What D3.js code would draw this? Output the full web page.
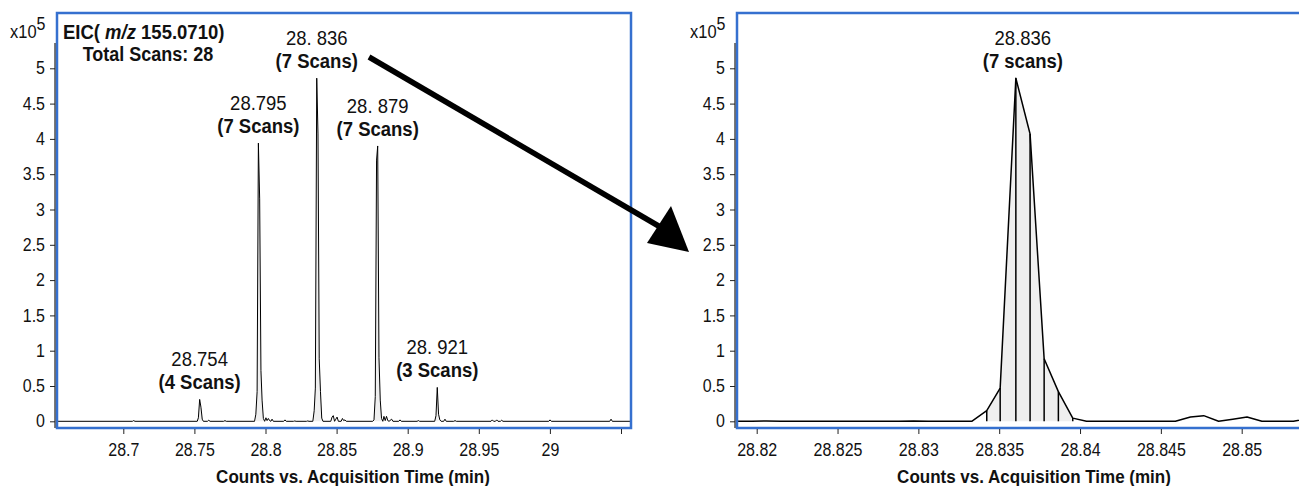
<!DOCTYPE html>
<html>
<head>
<meta charset="utf-8">
<script src="https://cdn.jsdelivr.net/npm/d3@7"></script>
<style>
  body { margin: 0; background: #fff; }
  svg text { font-family: Arial, "Liberation Sans", sans-serif; fill: #111; }
</style>
</head>
<body>
<svg id="chart" width="1299" height="486"></svg>
<script>
// EIC trace, acquisition time (min) and counts (x10^5)
var times = [
  28.6534, 28.7064, 28.7073, 28.7082,
  28.7520, 28.7528, 28.7537, 28.7546, 28.7555, 28.7563,
  28.7592, 28.7601, 28.7610, 28.7706, 28.7715, 28.7724,
  28.7923, 28.7932, 28.7941, 28.7950, 28.7959, 28.7968, 28.7976, 28.7985, 28.7994,
  28.8003, 28.8011, 28.8020, 28.8029, 28.8038, 28.8046, 28.8055,
  28.8128, 28.8137, 28.8146,
  28.8197, 28.8206, 28.8215, 28.8288, 28.8297, 28.8306, 28.8333,
  28.83423, 28.83506, 28.83603, 28.83691, 28.83778, 28.83866, 28.83955, 28.8404,
  28.8459, 28.84683, 28.84765, 28.84857, 28.84945, 28.85033, 28.85125, 28.8532,
  28.8541, 28.8550, 28.8559, 28.8568,
  28.8754, 28.8763, 28.8772, 28.8781, 28.8789, 28.8798, 28.8807, 28.8816, 28.8825,
  28.8833, 28.8842, 28.8851, 28.8860, 28.8869, 28.8887, 28.8896,
  28.8937, 28.8946, 28.8955, 28.9066, 28.9075, 28.9084,
  28.9190, 28.9199, 28.9208, 28.9217, 28.9226, 28.9235,
  28.9253, 28.9262, 28.9271, 28.9324, 28.9333, 28.9342,
  28.9586, 28.9595, 28.9604, 28.9617, 28.9626, 28.9635, 28.9652, 28.9661, 28.9670,
  28.9992, 29.0001, 29.0010, 29.0421, 29.0430, 29.0439, 29.0600
];
var counts = [
  0.00, 0.00, 0.01, 0.00,
  0.00, 0.05, 0.31, 0.20, 0.03, 0.00,
  0.00, 0.015, 0.00, 0.00, 0.01, 0.00,
  0.00, 0.10, 0.42, 3.94, 3.15, 0.72, 0.30, 0.04, 0.00,
  0.05, 0.01, 0.04, 0.01, 0.00, 0.03, 0.00,
  0.00, 0.02, 0.00,
  0.00, 0.005, 0.00, 0.00, 0.005, 0.00, 0.00,
  0.15, 0.47, 4.86, 4.07, 0.885, 0.42, 0.045, 0.00,
  0.00, 0.06, 0.08, 0.00, 0.03, 0.06, 0.00, 0.00,
  0.04, 0.01, 0.02, 0.00,
  0.00, 0.02, 0.35, 3.70, 3.90, 0.90, 0.30, 0.04, 0.00,
  0.07, 0.01, 0.07, 0.01, 0.00, 0.03, 0.00,
  0.00, 0.02, 0.00, 0.00, 0.01, 0.00,
  0.00, 0.08, 0.48, 0.10, 0.02, 0.00,
  0.00, 0.03, 0.00, 0.00, 0.01, 0.00,
  0.00, 0.02, 0.00, 0.00, 0.02, 0.00, 0.00, 0.015, 0.00,
  0.00, 0.02, 0.00, 0.00, 0.03, 0.00, 0.00
];

// integrated peaks
var peakStart = [28.7528, 28.7932, 28.83423, 28.8763, 28.9199];
var peakEnd = [28.7555, 28.7985, 28.83955, 28.8816, 28.9217];
var peakTimeLabels = ["28.754", "28.795", "28. 836", "28. 879", "28. 921"];
var peakScanLabels = ["(4 Scans)", "(7 Scans)", "(7 Scans)", "(7 Scans)", "(3 Scans)"];

var yTicks = [0, 0.5, 1, 1.5, 2, 2.5, 3, 3.5, 4, 4.5, 5];
var yTickLabels = ["0", "0.5", "1", "1.5", "2", "2.5", "3", "3.5", "4", "4.5", "5"];
var leftXTicks = [28.7, 28.75, 28.8, 28.85, 28.9, 28.95, 29, 29.05];
var leftXLabels = ["28.7", "28.75", "28.8", "28.85", "28.9", "28.95", "29", ""];
var rightXTicks = [28.82, 28.825, 28.83, 28.835, 28.84, 28.845, 28.85];
var rightXLabels = ["28.82", "28.825", "28.83", "28.835", "28.84", "28.845", "28.85"];

var data = times.map(function (t, i) { return { t: t, c: counts[i] }; });

var svg = d3.select("#chart");
var frameBlue = "#3570cf";

var y = d3.scaleLinear().domain([0, 5]).range([421.3, 68.3]);

function drawPanel(p) {
    var x = d3.scaleLinear().domain(p.domain).range(p.range);
    var g = svg.append("g");

    g.append("clipPath").attr("id", "clip" + p.id)
        .append("rect")
        .attr("x", p.left).attr("y", p.top)
        .attr("width", p.right - p.left).attr("height", p.bottom - p.top);

    var plot = g.append("g").attr("clip-path", "url(#clip" + p.id + ")");

    // grey fill under the integrated peaks
    var area = d3.area().x(function (d) { return x(d.t); }).y0(y(0)).y1(function (d) { return y(d.c); });
    p.peaks.forEach(function (k) {
        var seg = data.filter(function (d) { return d.t >= peakStart[k] - 1e-6 && d.t <= peakEnd[k] + 1e-6; });
        plot.append("path").datum(seg).attr("d", area).attr("fill", "#efefef");
        if (p.scanLines) {
            plot.selectAll(null).data(seg).enter().append("line")
                .attr("x1", function (d) { return x(d.t); })
                .attr("x2", function (d) { return x(d.t); })
                .attr("y1", y(0))
                .attr("y2", function (d) { return y(d.c); })
                .attr("stroke", "#000").attr("stroke-width", 1.5);
        }
    });

    var line = d3.line().x(function (d) { return x(d.t); }).y(function (d) { return y(d.c); });
    plot.append("path").datum(data).attr("d", line)
        .attr("fill", "none").attr("stroke", "#000")
        .attr("stroke-width", p.lineWidth).attr("stroke-linejoin", "round");

    // frame
    g.append("rect")
        .attr("x", p.left).attr("y", p.top)
        .attr("width", p.frameWidth).attr("height", p.bottom - p.top)
        .attr("fill", "none").attr("stroke", frameBlue).attr("stroke-width", 2.5);

    // y axis
    var ya = g.append("g").attr("transform", "translate(" + p.yAxisX + ",0)")
        .call(d3.axisLeft(y).tickValues(yTicks)
            .tickFormat(function (d, i) { return yTickLabels[i]; })
            .tickSize(5).tickPadding(5));
    ya.select(".domain").remove();
    ya.selectAll("text").attr("font-size", 16).attr("font-family", "Arial, 'Liberation Sans', sans-serif");
    ya.selectAll("line").attr("stroke", "#222");
    g.append("line").attr("x1", p.yAxisX).attr("x2", p.yAxisX)
        .attr("y1", 43).attr("y2", p.bottom)
        .attr("stroke", "#222").attr("stroke-width", 1.2);

    var ex = g.append("text").attr("x", p.yAxisX - 45).attr("y", 38).attr("font-size", 16.5);
    ex.append("tspan").text("x10");
    ex.append("tspan").attr("dy", -7).attr("font-size", 16).text("5");

    // x axis
    var xa = g.append("g").attr("transform", "translate(0," + (p.bottom + 1) + ")")
        .call(d3.axisBottom(x).tickValues(p.xTicks)
            .tickFormat(function (d, i) { return p.xLabels[i]; })
            .tickSize(5).tickPadding(10));
    xa.select(".domain").remove();
    xa.selectAll("text").attr("font-size", 16).attr("font-family", "Arial, 'Liberation Sans', sans-serif");
    xa.selectAll("line").attr("stroke", "#222");

    g.append("text").attr("x", p.titleX).attr("y", 483)
        .attr("text-anchor", "middle").attr("font-size", 17).attr("font-weight", "bold")
        .text("Counts vs. Acquisition Time (min)");

    // peak annotations
    p.peaks.forEach(function (k) {
        var seg = data.filter(function (d) { return d.t >= peakStart[k] - 1e-6 && d.t <= peakEnd[k] + 1e-6; });
        var apex = seg.reduce(function (a, b) { return b.c > a.c ? b : a; });
        var ax = x(apex.t) + p.labelDx, ay = y(apex.c);
        g.append("text").attr("x", ax).attr("y", ay - 33)
            .attr("text-anchor", "middle").attr("font-size", 18.5)
            .text(p.timeLabels ? p.timeLabels[k] : peakTimeLabels[k]);
        g.append("text").attr("x", ax).attr("y", ay - 10)
            .attr("text-anchor", "middle").attr("font-size", 18.5).attr("font-weight", "bold")
            .text(p.scanLabels ? p.scanLabels[k] : peakScanLabels[k]);
    });
    return g;
}

var left = drawPanel({
    id: "L", domain: [28.7, 29.0], range: [123.3, 549.9],
    left: 57, right: 631, top: 13, bottom: 428, frameWidth: 574,
    yAxisX: 55, xTicks: leftXTicks, xLabels: leftXLabels, titleX: 353,
    peaks: [0, 1, 2, 3, 4], scanLines: false, lineWidth: 1, labelDx: 0
});

var right = drawPanel({
    id: "R", domain: [28.82, 28.85], range: [756.7, 1241.7],
    left: 737, right: 1299, top: 13, bottom: 428, frameWidth: 620,
    yAxisX: 735, xTicks: rightXTicks, xLabels: rightXLabels, titleX: 1034,
    peaks: [2], scanLines: true, lineWidth: 1.5, labelDx: 7,
    timeLabels: ["", "", "28.836", "", ""], scanLabels: ["", "", "(7 scans)", "", ""]
});

// header of the left panel
left.append("text").attr("x", 63).attr("y", 39).attr("font-size", 18.5).attr("font-weight", "bold")
    .call(function (t) {
        t.append("tspan").text("EIC( ");
        t.append("tspan").attr("font-style", "italic").text("m/z");
        t.append("tspan").text(" 155.0710)");
    });
left.append("text").attr("x", 148).attr("y", 61).attr("text-anchor", "middle")
    .attr("font-size", 18).attr("font-weight", "bold").text("Total Scans: 28");

// arrow from the left peak to the zoomed view
svg.append("line").attr("x1", 369).attr("y1", 57).attr("x2", 662).attr("y2", 228)
    .attr("stroke", "#000").attr("stroke-width", 5.5);
svg.append("path").attr("d", "M647,243 L671,206 L689,252 Z").attr("fill", "#000");

// the source picture has slightly tall lettering: stretch text a little vertically
svg.selectAll("text").each(function () {
    var t = d3.select(this);
    var tx = +t.attr("x") || 0, ty = +t.attr("y") || 0;
    t.attr("transform", "translate(" + tx + "," + ty + ") scale(1,1.1) translate(" + (-tx) + "," + (-ty) + ")");
});
</script>
</body>
</html>
